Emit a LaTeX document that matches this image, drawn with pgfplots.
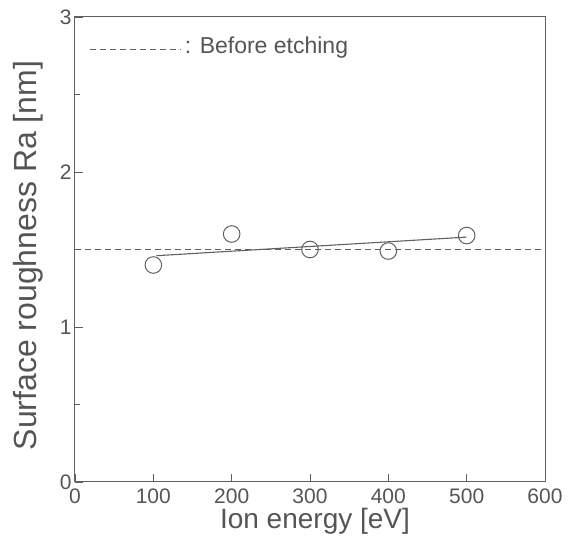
\documentclass[border=0pt]{standalone}
\usepackage{fontspec}
\setmainfont{Liberation Sans}
\usepackage{pgfplots}
\pgfplotsset{compat=1.18}
\definecolor{txt}{HTML}{555555}
\definecolor{ax}{HTML}{606060}
\begin{document}
\begin{tikzpicture}
\begin{axis}[
  name=ax,
  scale only axis,
  width=470pt, height=465pt,
  xmin=0, xmax=600, ymin=0, ymax=3,
  xtick={0,100,...,600}, ytick={0,1,2,3},
  minor ytick={0.5,1.5,2.5},
  tick align=inside,
  xtick pos=bottom, ytick pos=left,
  major tick length=8pt, minor tick length=5pt,
  axis line style={ax, line width=1pt},
  every tick/.style={ax, line width=0.8pt},
  tick label style={font=\fontsize{21}{24}\selectfont, text=txt},
  xticklabel style={yshift=-3pt},
  /pgf/number format/assume math mode=true,
  xlabel={Ion energy [eV]}, ylabel={Surface roughness Ra [nm]},
  xlabel style={font=\fontsize{28}{32}\selectfont, text=txt, yshift=2pt, xshift=5pt},
  ylabel style={font=\fontsize{32}{36}\selectfont, text=txt, yshift=10pt, xshift=-6pt},
  clip=false,
]
\addplot[ax, line width=0.8pt, dash pattern=on 6pt off 4pt] coordinates {(0,1.5) (600,1.5)};
\addplot[ax, line width=0.8pt, dash pattern=on 6pt off 4pt] coordinates {(19,2.79) (134,2.79)};
\node[anchor=west, text=txt, font=\fontsize{23}{26}\selectfont, inner sep=0pt] at (axis cs:140,2.8) {: Before etching};
\addplot[ax, line width=1.1pt] coordinates {(104,1.46) (500,1.58)};
\addplot[only marks, mark=o, mark size=8.3pt, mark options={ax, line width=1pt, fill=white}] coordinates {
(100,1.40) (200,1.60) (300,1.50) (400,1.49) (500,1.59)};
\end{axis}
\path ([xshift=-75pt,yshift=17pt]ax.north west) ([xshift=27pt,yshift=-60pt]ax.south east);
\end{tikzpicture}
\end{document}
